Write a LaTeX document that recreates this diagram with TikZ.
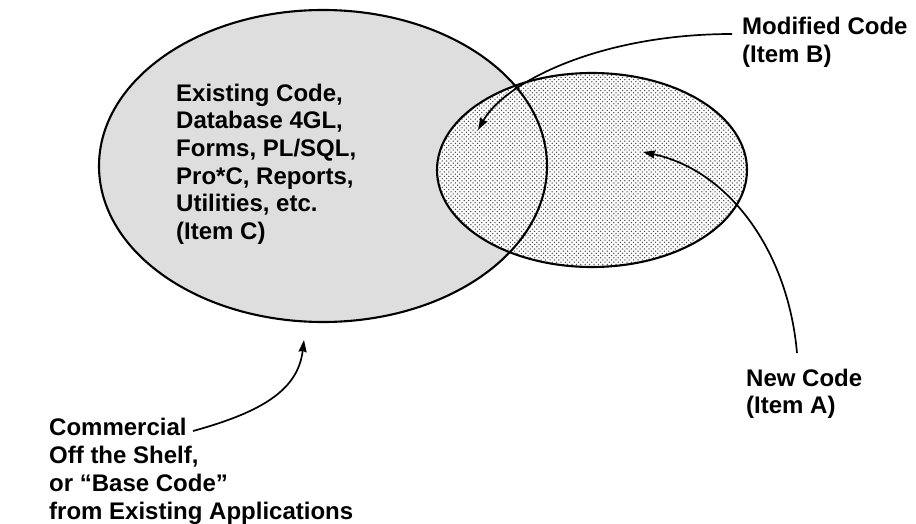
\documentclass[tikz,border=0pt]{standalone}
\usepackage{fontspec}
\setmainfont{Liberation Sans}
\usepackage{tikz}
\usetikzlibrary{patterns,arrows.meta}

\pgfdeclarepatternformonly{codedots}{\pgfqpoint{-.9pt}{-.9pt}}{\pgfqpoint{3.1pt}{3.1pt}}{\pgfqpoint{4.4pt}{4.4pt}}{
	\pgfpathcircle{\pgfqpoint{0pt}{0pt}}{.75pt}
	\pgfpathcircle{\pgfqpoint{2.2pt}{2.2pt}}{.75pt}
	\pgfusepath{fill}
}

\tikzset{
	lbl/.style = {anchor=base west, inner sep=0, align=left,
		font=\fontsize{24}{27.7}\selectfont\bfseries},
	pointer/.style = {line width=1.7pt, -{Stealth[length=12pt, width=8pt, inset=1pt]}}
}

\begin{document}
\begin{tikzpicture}[x=1pt, y=-1pt]
				\useasboundingbox (0,0) rectangle (916,524);
				\draw[draw=none, fill=black!13] (323,166) ellipse (224 and 156);
				\draw[draw=none, fill=white] (592,170) ellipse (155 and 97);
				\draw[draw=none, pattern=codedots, pattern color=black!70] (592,170) ellipse (155 and 97);
				\draw[line width=2.1pt] (592,170) ellipse (155 and 97);
				\draw[line width=2.1pt] (323,166) ellipse (224 and 156);
				\node[lbl] (oldlbl) at (176,239.5) {Existing Code,\\Database 4GL,\\Forms, PL/SQL,\\Pro*C, Reports,\\Utilities, etc.\\(Item C)};
				\node[lbl] (modlbl) at (742,62.7) {Modified Code\\(Item B)};
				\node[lbl] (newlbl) at (746,413.7) {New Code\\(Item A)};
				\node[lbl] (cotslbl) at (49,519) {Commercial\\Off the Shelf,\\or “Base Code”\\from Existing Applications};
				\coordinate (modtail) at (732,34);
				\coordinate (modtip) at (478,130);
				\coordinate (newtail) at (797,353);
				\coordinate (newtip) at (643,152);
				\coordinate (cotstail) at (193,431);
				\coordinate (cotstip) at (304,340);
				\draw[pointer] (modtail) .. controls (600,34) and (505,82) .. (modtip);
				\draw[pointer] (newtail) .. controls (788,250) and (728,170) .. (newtip);
				\draw[pointer] (cotstail) .. controls (262,412) and (298,390) .. (cotstip);
			\end{tikzpicture}
\end{document}
